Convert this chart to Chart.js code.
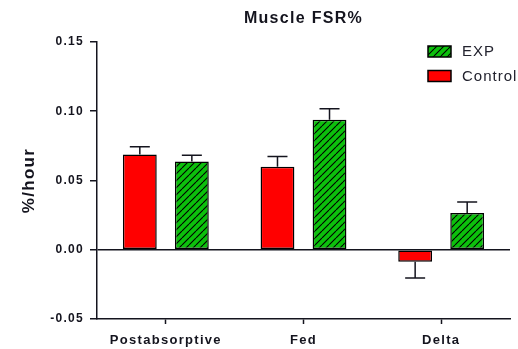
<!DOCTYPE html>
<html>
<head>
<meta charset="utf-8">
<script src="https://cdn.jsdelivr.net/npm/chart.js@4/dist/chart.umd.min.js"></script>
<style>
  html, body { margin: 0; padding: 0; background: #fff; }
  #wrap { width: 518px; height: 349px; }
</style>
</head>
<body>
<div id="wrap"><canvas id="c" width="518" height="349"></canvas></div>
<script>
// Muscle fractional synthesis rate, mean with one-sided SEM
const categories = ['Postabsorptive', 'Fed', 'Delta'];
const controlValues = [0.0688, 0.0599, -0.0087];
const controlErrors = [0.0055, 0.0074, 0.0117];
const expValues = [0.0637, 0.0938, 0.0265];
const expErrors = [0.0046, 0.0080, 0.0080];
const yTicks = [-0.05, 0.00, 0.05, 0.10, 0.15];

const INK = '#14141e';
const RED = '#ff0000';
const GREEN = '#0cc00c';
const FONT = '"Liberation Sans", Arial, Helvetica, sans-serif';

// Green fill with black diagonal hatching
function makeHatch() {
  const size = 7;
  const p = document.createElement('canvas');
  p.width = size; p.height = size;
  const g = p.getContext('2d');
  g.fillStyle = GREEN;
  g.fillRect(0, 0, size, size);
  g.strokeStyle = '#000';
  g.lineWidth = 1.1;
  g.beginPath();
  for (let k = -1; k <= 1; k++) {
    g.moveTo(k * size, size);
    g.lineTo(k * size + size, 0);
  }
  g.stroke();
  return g.createPattern(p, 'repeat');
}
const hatch = makeHatch();

// Slightly open letter spacing for all chart text
const spacing = {
  id: 'spacing',
  beforeUpdate(chart) { chart.ctx.letterSpacing = '1.3px'; },
  beforeDraw(chart) { chart.ctx.letterSpacing = '1.3px'; }
};

// One-sided error bars pointing away from zero
const errorBars = {
  id: 'errorBars',
  afterDatasetsDraw(chart) {
    const ctx = chart.ctx;
    const y = chart.scales.y;
    ctx.save();
    ctx.strokeStyle = INK;
    ctx.lineWidth = 1.5;
    chart.data.datasets.forEach((ds, di) => {
      const meta = chart.getDatasetMeta(di);
      meta.data.forEach((bar, i) => {
        const v = ds.data[i];
        const e = ds.errors[i];
        const tip = v >= 0 ? v + e : v - e;
        const x = bar.x;
        const y0 = y.getPixelForValue(v);
        const y1 = y.getPixelForValue(tip);
        ctx.beginPath();
        ctx.moveTo(x, y0);
        ctx.lineTo(x, y1);
        ctx.moveTo(x - 10, y1);
        ctx.lineTo(x + 10, y1);
        ctx.stroke();
      });
    });
    ctx.restore();
  }
};

// Legend box in the upper right, listed in reverse dataset order
const cornerLegend = {
  id: 'cornerLegend',
  afterDraw(chart) {
    const ctx = chart.ctx;
    const items = chart.data.datasets.slice().reverse();
    ctx.save();
    ctx.letterSpacing = '1px';
    ctx.font = '15px ' + FONT;
    ctx.textBaseline = 'middle';
    items.forEach((ds, k) => {
      const bx = 428, by = 46 + k * 24.5, bw = 23, bh = 11;
      ctx.fillStyle = ds.backgroundColor;
      ctx.fillRect(bx, by, bw, bh);
      ctx.strokeStyle = '#000';
      ctx.lineWidth = 1.5;
      ctx.strokeRect(bx, by, bw, bh);
      ctx.fillStyle = '#22222e';
      ctx.fillText(ds.label, bx + 34, by + bh / 2 + 0.5);
    });
    ctx.restore();
  }
};

new Chart(document.getElementById('c'), {
  type: 'bar',
  data: {
    labels: categories,
    datasets: [
      {
        label: 'Control',
        data: controlValues,
        errors: controlErrors,
        backgroundColor: RED,
        borderColor: '#000',
        borderWidth: 1.5,
        borderSkipped: false
      },
      {
        label: 'EXP',
        data: expValues,
        errors: expErrors,
        backgroundColor: hatch,
        borderColor: '#000',
        borderWidth: 1.5,
        borderSkipped: false
      }
    ]
  },
  options: {
    responsive: false,
    animation: false,
    devicePixelRatio: 1,
    categoryPercentage: 0.756,
    barPercentage: 0.65,
    layout: { padding: { left: 0, right: 8, top: 0, bottom: 0 } },
    plugins: {
      legend: { display: false },
      tooltip: { enabled: false },
      title: {
        display: true,
        fullSize: false,
        text: 'Muscle FSR%',
        color: INK,
        font: { family: FONT, size: 16, weight: 'bold' },
        padding: { top: 9, bottom: 13.8 }
      }
    },
    scales: {
      x: {
        offset: true,
        grid: {
          offset: false,
          drawOnChartArea: false,
          drawTicks: true,
          tickLength: 5,
          tickColor: INK,
          tickWidth: 1.5
        },
        border: { display: true, color: INK, width: 1.5 },
        ticks: {
          color: INK,
          padding: 9,
          font: { family: FONT, size: 13, weight: 'bold' }
        },
        afterFit(scale) { scale.height = 30; }
      },
      y: {
        min: -0.05,
        max: 0.15,
        afterBuildTicks(scale) { scale.ticks = yTicks.map(v => ({ value: v })); },
        grid: {
          drawOnChartArea: true,
          color: c => (c.tick && Math.abs(c.tick.value) < 1e-9) ? INK : 'rgba(0,0,0,0)',
          lineWidth: 1.5,
          drawTicks: true,
          tickLength: 7,
          tickColor: INK,
          tickWidth: 1.5
        },
        border: { display: true, color: INK, width: 1.5 },
        ticks: {
          color: INK,
          padding: 6,
          font: { family: FONT, size: 12, weight: 'bold' },
          callback: v => v.toFixed(2)
        },
        title: {
          display: true,
          text: '%/hour',
          color: INK,
          font: { family: FONT, size: 17, weight: 'bold' },
          padding: { top: 19, bottom: 0 }
        },
        afterFit(scale) { scale.width = 97; }
      }
    }
  },
  plugins: [spacing, errorBars, cornerLegend]
});
</script>
</body>
</html>
